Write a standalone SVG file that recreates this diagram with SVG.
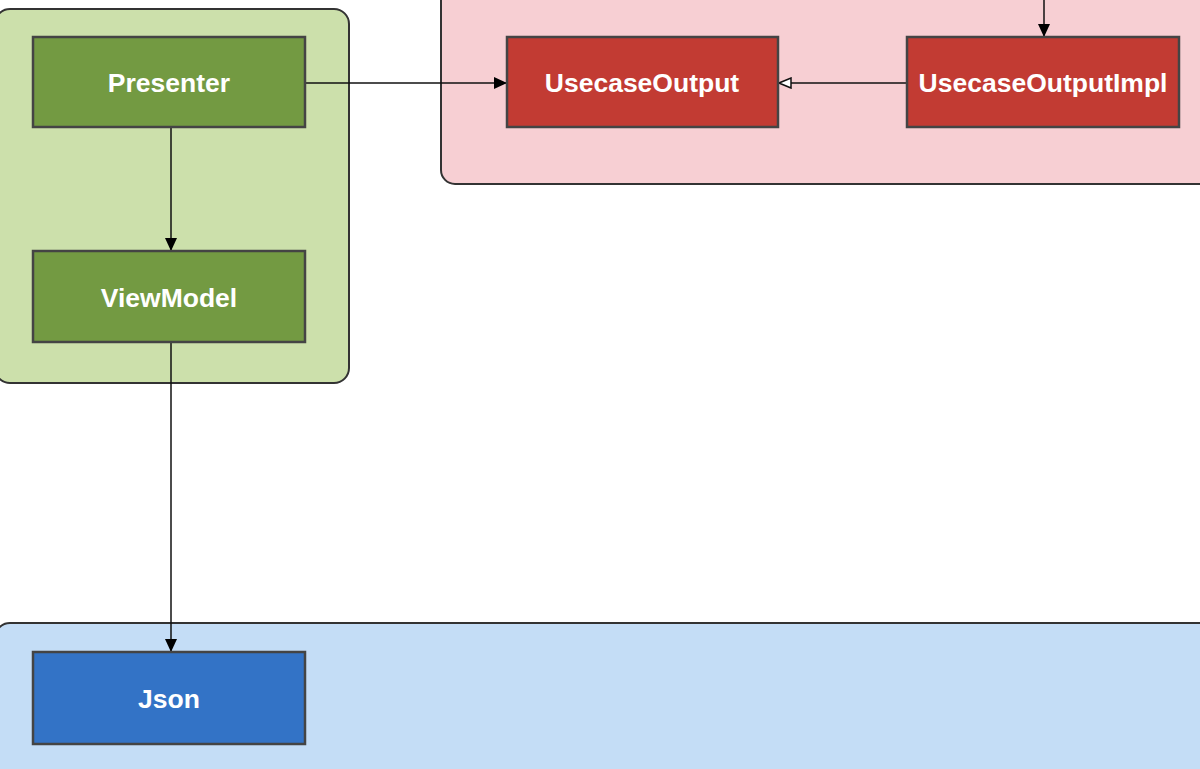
<svg xmlns="http://www.w3.org/2000/svg" width="1200" height="769" viewBox="0 0 1200 769">
<style>
.cont{stroke:#333;stroke-width:2}
.node{stroke:#444;stroke-width:2.5}
.lbl{font-family:"Liberation Sans",Arial,sans-serif;font-weight:bold;font-size:26.5px;fill:#fff;text-anchor:middle}
.edge{fill:none;stroke:#111;stroke-width:1.5}
</style>
<defs>
<marker id="fa" markerWidth="14" markerHeight="12" refX="13" refY="6" orient="auto" markerUnits="userSpaceOnUse">
<path d="M0,0 L13,6 L0,12 Z" fill="#000"/>
</marker>
<marker id="ha" markerWidth="14" markerHeight="12" refX="13" refY="6" orient="auto" markerUnits="userSpaceOnUse">
<path d="M1,1 L13,6 L1,11 Z" fill="#fff" stroke="#111" stroke-width="1.5"/>
</marker>
</defs>
<rect width="1200" height="769" fill="#fff"/>
<g id="layer-green"><rect class="cont" x="-5" y="9" width="354" height="374" rx="15" fill="#cce0ab"/></g>
<g id="layer-pink"><rect class="cont" x="441" y="-30" width="790" height="214" rx="14" fill="#f7cfd3"/></g>
<g id="layer-blue"><rect class="cont" x="-5" y="623" width="1235" height="180" rx="15" fill="#c4ddf6"/></g>
<g id="connectors">
<path class="edge" d="M305,83 H507" marker-end="url(#fa)"/>
<path class="edge" d="M907,83 H779" marker-end="url(#ha)"/>
<path class="edge" d="M1044,0 V37" marker-end="url(#fa)"/>
<path class="edge" d="M171,127 V251" marker-end="url(#fa)"/>
<path class="edge" d="M171,342 V652" marker-end="url(#fa)"/>
</g>
<g id="presenter"><rect class="node" x="33" y="37" width="272" height="90" fill="#739a42"/><text class="lbl" x="169" y="92">Presenter</text></g>
<g id="viewmodel"><rect class="node" x="33" y="251" width="272" height="91" fill="#739a42"/><text class="lbl" x="169" y="307">ViewModel</text></g>
<g id="usecaseoutput"><rect class="node" x="507" y="37" width="271" height="90" fill="#c23b33"/><text class="lbl" x="642" y="92">UsecaseOutput</text></g>
<g id="usecaseoutputimpl"><rect class="node" x="907" y="37" width="272" height="90" fill="#c23b33"/><text class="lbl" x="1043" y="92">UsecaseOutputImpl</text></g>
<g id="json"><rect class="node" x="33" y="652" width="272" height="92" fill="#3373c6"/><text class="lbl" x="169" y="708">Json</text></g>
</svg>
